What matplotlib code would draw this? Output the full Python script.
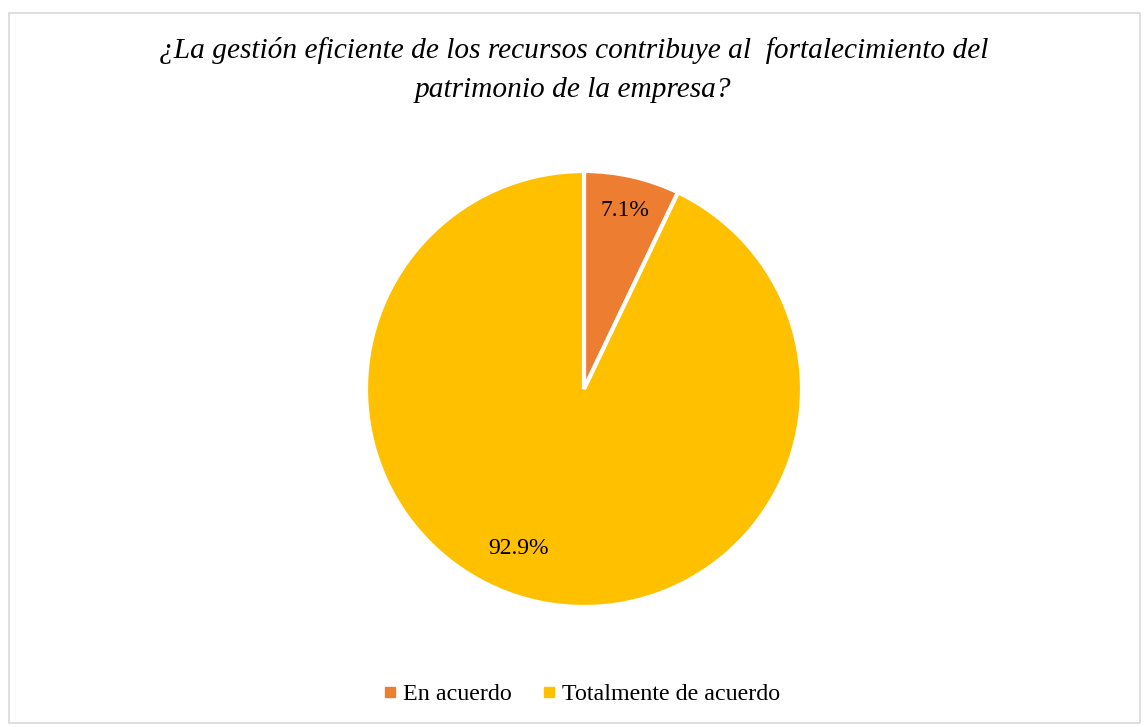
import numpy as np
import matplotlib.pyplot as plt
from matplotlib.patches import Rectangle

labels = ["En acuerdo", "Totalmente de acuerdo"]
values = [7.1, 92.9]
colors = ["#ED7D31", "#FFC000"]
title = "¿La gestión eficiente de los recursos contribuye al  fortalecimiento del\npatrimonio de la empresa?"

plt.rcParams["font.family"] = ["Liberation Serif", "DejaVu Serif"]

W, H = 1147, 727
fig = plt.figure(figsize=(W / 100, H / 100), dpi=100)

# light grey frame around the chart area
fig.patches.append(Rectangle((9 / W, 4 / H), 1131 / W, 710 / H, transform=fig.transFigure,
                             fill=False, edgecolor="#D9D9D9", linewidth=1.2))

ax = fig.add_axes([366 / W, 120 / H, 436 / W, 436 / H])
wedges, texts, autotexts = ax.pie(values, colors=colors, startangle=90, counterclock=False,
                                  autopct="%1.1f%%", pctdistance=0.84,
                                  wedgeprops=dict(edgecolor="white", linewidth=3),
                                  textprops=dict(fontsize=17, color="#000000"))
ax.set_aspect("equal")
ax.set_xlim(-1, 1)
ax.set_ylim(-1, 1)

# nudge the big label to where the original places it
ang = np.deg2rad(-112.5)
autotexts[1].set_position((0.79 * np.cos(ang), 0.79 * np.sin(ang)))

fig.suptitle(title, y=1 - 37 / H, va="top", fontsize=21.2, style="italic", color="#000000",
             linespacing=1.65)

handles = [plt.Line2D([], [], marker="s", linestyle="", markersize=7, color=c) for c in colors]
fig.legend(handles, labels, loc="center", bbox_to_anchor=(0.505, 1 - 694 / H),
           ncol=2, frameon=False, fontsize=17.3, handletextpad=0.05, columnspacing=1.05,
           handlelength=1.0)

fig.savefig("out.png", dpi=100)
